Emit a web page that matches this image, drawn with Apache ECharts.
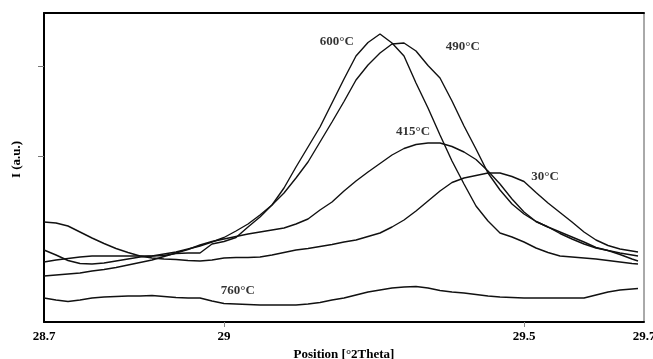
<!DOCTYPE html>
<html>
<head>
<meta charset="utf-8">
<script src="https://cdn.jsdelivr.net/npm/echarts@6/dist/echarts.min.js"></script>
<style>
  html, body { margin: 0; padding: 0; background: #fff; }
  #chart { width: 653px; height: 359px; }
</style>
</head>
<body>
<div id="chart"></div>
<script>
// 2theta positions shared by all scans
const positions = [
  28.70, 28.72, 28.74, 28.76, 28.78, 28.80, 28.82, 28.84, 28.86, 28.88,
  28.90, 28.92, 28.94, 28.96, 28.98, 29.00, 29.02, 29.04, 29.06, 29.08,
  29.10, 29.12, 29.14, 29.16, 29.18, 29.20, 29.22, 29.24, 29.26, 29.28,
  29.30, 29.32, 29.34, 29.36, 29.38, 29.40, 29.42, 29.44, 29.46, 29.48,
  29.50, 29.52, 29.54, 29.56, 29.58, 29.60, 29.62, 29.64, 29.66, 29.68, 29.69
];

const i600 = [
  72, 67, 61.5, 58.5, 58, 59, 61, 63, 65, 66,
  68, 70, 73, 76, 80, 84.5, 91, 98, 107, 117,
  134, 155, 175, 195, 219, 243, 266, 279.5, 288, 279,
  266, 239, 214, 187, 161, 138, 116, 101, 89, 85,
  80, 74, 69.5, 66, 65, 64, 63, 61.5, 60, 58.5, 58
];

const i490 = [
  60, 62, 63.5, 65, 66, 66, 66, 66, 66, 66,
  66.5, 68.5, 69, 69, 78, 80.5, 84.5, 95, 105, 117,
  129, 144, 160, 180, 200, 220.5, 242, 257, 269, 278,
  279, 271, 256.5, 244, 221, 196, 173, 149, 132, 118,
  108, 100.5, 95, 90, 85, 80, 74.5, 71.5, 69, 67, 66
];

const i415 = [
  46, 47, 48, 49, 51, 52.5, 54.5, 57, 59.5, 62,
  65.5, 69, 72.5, 77, 80.5, 83, 85.5, 88, 90, 92,
  94, 98, 103, 112, 120, 131, 141, 150, 158.5, 167,
  173.5, 177.5, 179, 179, 175.5, 170, 162.5, 151, 138, 123,
  110, 100.5, 95, 88.5, 83, 78, 74, 71.5, 67.5, 63, 61
];

const i30 = [
  100, 99, 96, 90, 84, 78.5, 73.5, 69.5, 66, 64,
  63, 62.5, 61.5, 61, 62, 64, 64.5, 64.5, 65, 67,
  69.5, 72, 73.5, 75.5, 77.5, 80, 82, 85.5, 89, 95,
  102, 111, 121, 131, 139.5, 144, 146.5, 149, 149, 145.5,
  140.5, 129.5, 119, 109.5, 100, 90, 82, 76.5, 73, 71, 70
];

const i760 = [
  24, 22, 20.5, 22, 24, 25, 25.5, 26, 26, 26.5,
  25.5, 24.5, 24, 24, 21, 18.5, 18, 17.5, 17, 17,
  17, 17, 18, 19.5, 22, 24, 27, 30, 32, 34,
  35, 35.5, 34, 31.5, 30, 29, 27.5, 26, 25, 24.5,
  24, 24, 24, 24, 24, 24, 27, 30, 32, 33, 33.5
];

// curve labels
const labelTexts = ["600°C", "490°C", "415°C", "30°C", "760°C"];
const labelX = [29.188, 29.398, 29.315, 29.535, 29.023];
const labelY = [280, 275, 190, 145, 31];

const xLabelValues = [28.7, 29, 29.5, 29.7];
const xTickValues = [29, 29.5];
const yTickValues = [166, 256];

const serif = "Liberation Serif";

function pairs(arr) {
  return positions.map((x, i) => [x, arr[i]]);
}

function curve(name, arr) {
  return {
    name: name,
    type: "line",
    data: pairs(arr),
    symbol: "none",
    smooth: false,
    silent: true,
    lineStyle: { color: "#111", width: 1.4 },
  };
}

let myChart = echarts.init(document.getElementById("chart"));
myChart.setOption({
  animation: false,
  backgroundColor: "#fff",
  grid: {
    left: 44,
    right: 9,
    top: 13,
    bottom: 37,
    outerBoundsMode: "none",
    show: true,
    borderColor: "#555",
    borderWidth: 1,
  },
  xAxis: [
    {
      type: "value",
      min: 28.7,
      max: 29.7,
      name: "Position [°2Theta]",
      nameLocation: "middle",
      nameGap: 22,
      nameTextStyle: {
        fontFamily: serif,
        fontWeight: "bold",
        fontSize: 13,
        color: "#000",
      },
      axisLine: { show: true, lineStyle: { color: "#000", width: 2 } },
      axisTick: {
        show: true,
        customValues: xTickValues,
        length: 5,
        lineStyle: { color: "#888" },
      },
      axisLabel: {
        customValues: xLabelValues,
        margin: 8,
        fontFamily: serif,
        fontWeight: "bold",
        fontSize: 13,
        color: "#000",
        showMinLabel: true,
        showMaxLabel: true,
      },
      splitLine: { show: false },
    },
    {
      type: "value",
      position: "top",
      min: 28.7,
      max: 29.7,
      axisLine: { show: true, lineStyle: { color: "#000", width: 2 } },
      axisTick: { show: false },
      axisLabel: { show: false },
      splitLine: { show: false },
    },
  ],
  yAxis: {
    type: "value",
    min: 0,
    max: 309,
    name: "I (a.u.)",
    nameLocation: "middle",
    nameGap: 21,
    nameTextStyle: {
      fontFamily: serif,
      fontWeight: "bold",
      fontSize: 13,
      color: "#000",
      padding: [0, 0, 0, 16],
    },
    axisLine: { show: true, lineStyle: { color: "#000", width: 2 } },
    axisTick: {
      show: true,
      customValues: yTickValues,
      length: 6,
      lineStyle: { color: "#777" },
    },
    axisLabel: { show: false },
    splitLine: { show: false },
  },
  series: [
    curve("600°C", i600),
    curve("490°C", i490),
    curve("415°C", i415),
    curve("30°C", i30),
    curve("760°C", i760),
    {
      type: "scatter",
      symbolSize: 0,
      silent: true,
      data: labelTexts.map((t, i) => ({ name: t, value: [labelX[i], labelY[i]] })),
      label: {
        show: true,
        position: "inside",
        formatter: "{b}",
        fontFamily: serif,
        fontWeight: "bold",
        fontSize: 13,
        color: "#000",
      },
    },
  ],
});
</script>
</body>
</html>
